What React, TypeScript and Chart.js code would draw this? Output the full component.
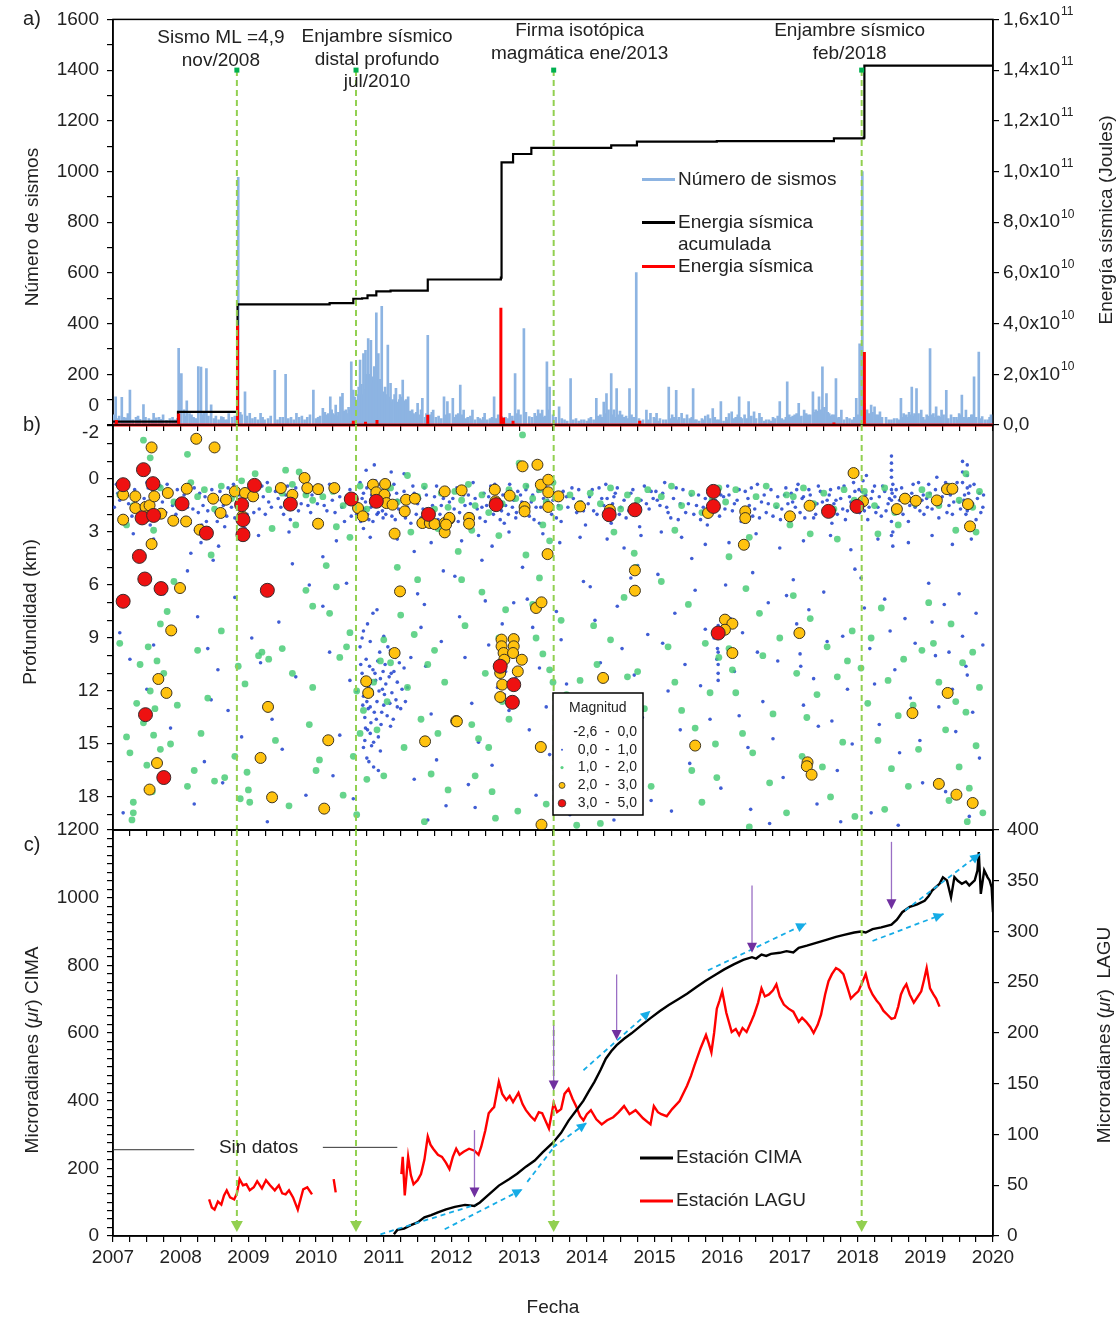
import React, { useEffect, useRef } from 'react';
import { Chart, registerables } from 'chart.js';

Chart.register(...registerables);

const FONT = '"Liberation Sans", Arial, Helvetica, sans-serif';
const INK = '#222222';

/* ================= DATA ================= */

// a) Número de sismos [año, sismos] – picos
const quakeCounts: number[][] = [
  [2007.04,111],[2007.09,35],[2007.13,109],[2007.19,28],[2007.25,138],[2007.34,30],[2007.4,22],[2007.45,81],[2007.53,25],[2007.6,46],[2007.68,30],[2007.74,40],[2007.79,18],[2007.84,25],[2007.92,20],[2007.97,302],[2008.01,203],[2008.05,60],[2008.09,95],[2008.16,40],[2008.21,25],[2008.26,230],[2008.3,228],[2008.34,50],[2008.38,223],[2008.45,80],[2008.52,35],[2008.6,33],[2008.66,20],[2008.71,45],[2008.76,30],[2008.85,977],[2008.9,40],[2008.95,131],[2009.02,46],[2009.1,30],[2009.18,46],[2009.24,20],[2009.29,25],[2009.39,216],[2009.47,30],[2009.55,200],[2009.63,30],[2009.71,46],[2009.79,35],[2009.87,30],[2009.96,138],[2010.03,30],[2010.1,66],[2010.15,40],[2010.21,111],[2010.25,45],[2010.29,79],[2010.33,50],[2010.36,111],[2010.39,125],[2010.44,60],[2010.48,70],[2010.52,249],[2010.55,138],[2010.58,90],[2010.6,98],[2010.63,150],[2010.65,256],[2010.68,120],[2010.7,282],[2010.73,295],[2010.75,180],[2010.77,341],[2010.79,200],[2010.81,334],[2010.84,164],[2010.86,230],[2010.89,442],[2010.92,282],[2010.94,180],[2010.97,468],[2010.99,131],[2011.02,150],[2011.04,120],[2011.06,315],[2011.08,110],[2011.1,164],[2011.13,100],[2011.16,120],[2011.18,145],[2011.21,90],[2011.23,100],[2011.26,110],[2011.28,177],[2011.31,95],[2011.33,100],[2011.36,111],[2011.42,60],[2011.46,40],[2011.5,85],[2011.57,105],[2011.61,30],[2011.65,354],[2011.69,40],[2011.73,59],[2011.81,35],[2011.89,111],[2011.94,92],[2012.02,105],[2012.07,40],[2012.13,157],[2012.18,59],[2012.24,30],[2012.31,59],[2012.39,30],[2012.44,20],[2012.49,46],[2012.57,25],[2012.63,111],[2012.69,40],[2012.74,33],[2012.8,30],[2012.86,46],[2012.94,203],[2012.99,60],[2013.07,380],[2013.15,33],[2013.23,46],[2013.28,60],[2013.34,59],[2013.38,35],[2013.41,249],[2013.45,150],[2013.5,40],[2013.59,72],[2013.67,20],[2013.76,183],[2013.84,25],[2013.92,20],[2014.0,15],[2014.06,30],[2014.14,105],[2014.2,40],[2014.25,90],[2014.29,124],[2014.36,203],[2014.4,60],[2014.44,144],[2014.49,55],[2014.52,40],[2014.58,35],[2014.63,144],[2014.69,30],[2014.73,601],[2014.77,25],[2014.83,20],[2014.88,59],[2014.94,46],[2014.99,30],[2015.03,46],[2015.08,25],[2015.13,20],[2015.21,150],[2015.26,40],[2015.32,137],[2015.36,30],[2015.4,46],[2015.48,40],[2015.52,25],[2015.57,144],[2015.62,20],[2015.7,25],[2015.75,35],[2015.79,40],[2015.86,65],[2015.92,20],[2015.98,92],[2016.06,30],[2016.1,45],[2016.14,52],[2016.2,30],[2016.25,111],[2016.29,25],[2016.33,40],[2016.39,92],[2016.47,52],[2016.55,46],[2016.58,30],[2016.65,20],[2016.72,15],[2016.78,25],[2016.85,92],[2016.91,20],[2016.96,170],[2017.02,30],[2017.07,40],[2017.13,85],[2017.17,35],[2017.21,59],[2017.27,40],[2017.34,131],[2017.38,60],[2017.43,111],[2017.48,229],[2017.51,70],[2017.54,124],[2017.58,45],[2017.62,40],[2017.68,183],[2017.72,30],[2017.76,59],[2017.84,30],[2017.92,20],[2017.98,105],[2018.03,320],[2018.07,1000],[2018.1,85],[2018.14,60],[2018.2,79],[2018.25,72],[2018.3,40],[2018.33,52],[2018.42,30],[2018.5,20],[2018.58,25],[2018.64,105],[2018.68,45],[2018.72,40],[2018.76,50],[2018.8,150],[2018.84,45],[2018.87,144],[2018.94,59],[2019.02,40],[2019.07,301],[2019.12,45],[2019.16,72],[2019.2,35],[2019.24,59],[2019.31,137],[2019.38,40],[2019.46,30],[2019.5,45],[2019.54,118],[2019.6,59],[2019.64,30],[2019.68,40],[2019.72,190],[2019.79,288],[2019.84,33],[2019.92,20],[2019.97,40]
];
// a) Número de sismos – actividad de fondo
const quakeCountsLow: number[][] = [
  [2007.02,40],[2007.07,25],[2007.16,30],[2007.22,45],[2007.29,20],[2007.37,35],[2007.48,30],[2007.57,20],[2007.64,28],[2007.71,22],[2007.88,30],[2007.95,25],[2008.07,35],[2008.13,45],[2008.19,30],[2008.24,25],[2008.32,40],[2008.41,35],[2008.49,25],[2008.56,20],[2008.63,30],[2008.69,20],[2008.8,35],[2008.88,50],[2008.98,35],[2009.06,25],[2009.14,20],[2009.21,30],[2009.33,35],[2009.43,20],[2009.51,30],[2009.59,25],[2009.67,20],[2009.75,30],[2009.83,20],[2009.91,40],[2010.0,25],[2010.06,35],[2010.13,50],[2010.18,45],[2010.23,60],[2010.27,40],[2010.31,35],[2010.41,55],[2010.46,45],[2010.5,60],[2010.57,110],[2010.62,120],[2010.67,160],[2010.72,140],[2010.74,200],[2010.78,160],[2010.83,190],[2010.88,150],[2010.91,210],[2010.96,170],[2011.0,120],[2011.12,90],[2011.2,80],[2011.24,120],[2011.3,70],[2011.35,85],[2011.39,55],[2011.44,45],[2011.48,50],[2011.53,40],[2011.55,60],[2011.63,45],[2011.67,35],[2011.71,50],[2011.77,30],[2011.85,25],[2011.92,40],[2011.97,45],[2012.05,30],[2012.1,45],[2012.16,40],[2012.21,25],[2012.28,35],[2012.35,20],[2012.42,25],[2012.47,30],[2012.53,20],[2012.6,30],[2012.66,25],[2012.77,20],[2012.83,25],[2012.9,35],[2012.97,45],[2013.02,40],[2013.1,50],[2013.19,30],[2013.26,35],[2013.31,45],[2013.36,30],[2013.43,60],[2013.54,30],[2013.63,25],[2013.71,15],[2013.8,20],[2013.88,15],[2013.96,20],[2014.03,25],[2014.1,20],[2014.17,35],[2014.22,30],[2014.27,45],[2014.32,60],[2014.38,40],[2014.42,30],[2014.47,40],[2014.55,30],[2014.61,25],[2014.66,40],[2014.71,30],[2014.8,15],[2014.91,20],[2015.01,25],[2015.06,15],[2015.17,20],[2015.24,25],[2015.29,30],[2015.34,20],[2015.44,25],[2015.55,30],[2015.6,20],[2015.66,15],[2015.73,20],[2015.82,25],[2015.89,30],[2015.95,20],[2016.02,15],[2016.08,20],[2016.17,25],[2016.23,40],[2016.27,30],[2016.36,25],[2016.43,35],[2016.5,25],[2016.62,15],[2016.69,20],[2016.75,30],[2016.82,35],[2016.88,25],[2016.94,30],[2016.99,40],[2017.04,35],[2017.1,45],[2017.15,30],[2017.24,45],[2017.3,40],[2017.36,50],[2017.41,55],[2017.46,60],[2017.5,45],[2017.56,50],[2017.6,35],[2017.65,40],[2017.7,25],[2017.8,20],[2017.88,25],[2017.95,30],[2018.0,40],[2018.05,60],[2018.12,50],[2018.17,45],[2018.22,50],[2018.27,40],[2018.36,30],[2018.46,20],[2018.54,25],[2018.61,20],[2018.66,30],[2018.7,35],[2018.74,30],[2018.78,40],[2018.82,35],[2018.85,40],[2018.9,45],[2018.97,30],[2019.0,20],[2019.04,35],[2019.1,40],[2019.14,30],[2019.18,35],[2019.22,30],[2019.27,40],[2019.34,25],[2019.42,30],[2019.48,20],[2019.52,40],[2019.57,30],[2019.62,25],[2019.66,30],[2019.7,40],[2019.75,30],[2019.81,25],[2019.88,20],[2019.95,30]
];

// a) Energía sísmica (x10^10 J) picos
const energySpikes: number[][] = [
  [2007.05,0.2],[2007.97,0.45],[2008.84,3.93],[2010.55,0.17],[2010.73,0.13],[2010.9,0.2],[2011.65,0.4],[2012.73,4.63],[2012.77,0.3],[2012.91,0.17],[2014.78,0.17],[2017.65,0.1],[2018.1,2.88]
];

// a) Energía sísmica acumulada (x10^10 J)
const energyCumulative: number[][] = [
  [2007.0,0.13],[2007.96,0.52],[2008.84,4.76],[2010.2,4.81],[2010.55,4.98],[2010.68,5.0],[2010.76,5.11],[2010.89,5.27],[2011.1,5.3],[2011.65,5.74],[2012.73,5.81],[2012.74,10.36],[2012.91,10.69],[2013.18,10.93],[2014.36,11.03],[2014.74,11.18],[2015.92,11.2],[2017.65,11.31],[2018.09,11.34],[2018.1,14.18],[2020.0,14.18]
];

// b) Profundidad (km) por magnitud [año, km] — magnitud < 1
const magLow: number[][] = [
  [2007.05,0.3],[2007.1,1.2],[2007.2,0.5],[2007.28,2.1],[2007.35,0.8],[2007.42,1.6],[2007.5,0.2],[2007.55,2.6],[2007.62,1.1],[2007.7,0.4],[2007.78,1.9],[2007.85,0.9],[2007.9,2.4],[2007.95,0.6],[2007.3,3.1],[2007.6,3.4],
  [2007.02,1.6],[2007.07,0.8],[2007.12,2.3],[2007.17,0.1],[2007.23,1.4],[2007.32,0.6],[2007.38,2.0],[2007.46,1.1],[2007.52,0.5],[2007.58,1.7],[2007.66,2.2],[2007.73,1.3],[2007.8,0.3],[2007.88,1.5],[2007.93,2.0],
  [2007.1,8.7],[2007.25,10.2],[2007.5,11.9],[2007.85,14.1],[2007.15,18.9],[2007.75,6.5],[2007.6,9.4],
  [2008.02,1.3],[2008.08,2.2],[2008.12,0.3],[2008.18,1.7],[2008.22,2.9],[2008.28,0.8],[2008.33,1.5],[2008.38,2.4],[2008.42,3.3],[2008.46,0.6],[2008.52,1.9],[2008.56,3.8],[2008.6,1.2],[2008.65,2.7],[2008.7,0.5],[2008.75,1.6],[2008.8,2.2],[2008.86,0.9],[2008.9,1.8],[2008.95,2.8],[2008.15,4.2],[2008.3,3.6],[2008.48,4.6],
  [2008.05,0.9],[2008.1,1.6],[2008.14,2.5],[2008.2,0.5],[2008.26,1.9],[2008.31,2.6],[2008.36,1.0],[2008.4,1.8],[2008.44,2.9],[2008.5,1.2],[2008.54,2.4],[2008.58,0.7],[2008.63,1.5],[2008.68,2.1],[2008.72,1.0],[2008.78,0.3],[2008.83,1.4],[2008.88,2.5],[2008.93,1.2],[2008.98,2.0],
  [2008.1,5.2],[2008.25,7.8],[2008.4,9.6],[2008.45,12.5],[2008.55,10.8],[2008.7,13.1],[2008.9,14.6],[2008.2,18.4],[2008.35,16.0],[2008.8,6.7],[2008.62,17.2],
  [2009.02,0.6],[2009.08,1.9],[2009.12,1.1],[2009.2,0.4],[2009.25,2.0],[2009.3,1.3],[2009.4,0.7],[2009.48,1.6],[2009.55,0.9],[2009.62,2.3],[2009.7,0.5],[2009.78,1.4],[2009.85,0.8],[2009.92,1.9],[2009.97,2.6],[2009.15,3.2],[2009.6,3.0],
  [2009.04,1.2],[2009.1,0.6],[2009.16,1.7],[2009.22,1.0],[2009.28,0.2],[2009.34,1.6],[2009.44,1.1],[2009.52,2.0],[2009.58,0.4],[2009.66,1.2],[2009.74,1.8],[2009.82,0.5],[2009.88,1.5],[2009.94,0.9],
  [2009.05,9.0],[2009.18,10.4],[2009.35,13.6],[2009.45,8.1],[2009.5,15.3],[2009.7,11.2],[2009.85,17.9],[2009.9,6.0],[2009.28,19.4],[2009.65,4.8],
  [2010.05,0.8],[2010.12,1.5],[2010.2,0.3],[2010.28,1.9],[2010.35,1.0],[2010.42,2.4],[2010.5,0.6],[2010.55,1.3],[2010.6,2.0],[2010.65,0.2],[2010.68,1.1],[2010.72,1.7],[2010.75,0.5],[2010.78,2.3],[2010.82,0.9],[2010.85,1.4],[2010.88,0.1],[2010.9,2.0],[2010.93,1.2],[2010.96,0.7],[2010.98,1.8],[2010.7,2.8],[2010.8,3.3],[2010.3,3.5],
  [2010.02,1.4],[2010.08,0.4],[2010.16,1.8],[2010.24,1.2],[2010.32,0.6],[2010.38,1.6],[2010.46,1.0],[2010.52,2.1],[2010.58,0.9],[2010.62,1.5],[2010.66,2.4],[2010.7,0.8],[2010.73,1.3],[2010.76,2.0],[2010.79,0.4],[2010.81,1.6],[2010.84,2.4],[2010.87,0.7],[2010.89,1.1],[2010.92,1.9],[2010.95,0.3],[2010.97,1.4],[2010.99,2.2],[2010.74,-0.5],[2010.86,-0.8],
  [2010.65,9.5],[2010.68,11.0],[2010.7,12.3],[2010.72,13.5],[2010.74,10.2],[2010.76,14.2],[2010.78,11.7],[2010.8,12.9],[2010.82,15.1],[2010.84,10.8],[2010.86,13.2],[2010.88,11.4],[2010.9,12.6],[2010.92,14.6],[2010.94,9.8],[2010.96,13.9],[2010.98,11.9],[2011.0,12.8],[2011.02,10.5],[2011.05,13.4],[2011.08,11.2],[2011.1,14.0],[2011.12,12.1],[2011.15,10.9],[2011.18,12.5],[2011.2,11.5],[2011.25,13.0],[2011.3,10.7],[2010.75,15.8],[2010.85,16.3],[2010.7,8.6],[2010.9,7.4],[2011.0,8.9],[2011.1,9.7],[2010.8,9.2],[2011.35,11.8],[2011.4,10.1],[2010.6,12.0],[2010.72,14.8],[2010.95,15.4],
  [2010.66,10.5],[2010.69,12.8],[2010.71,11.5],[2010.73,14.1],[2010.75,12.6],[2010.77,13.0],[2010.79,10.6],[2010.81,13.8],[2010.83,12.2],[2010.85,14.9],[2010.87,11.0],[2010.89,13.6],[2010.91,10.3],[2010.93,12.0],[2010.95,11.3],[2010.97,13.2],[2010.99,10.9],[2011.01,12.2],[2011.03,11.6],[2011.06,9.5],[2011.09,12.7],[2011.11,11.0],[2011.14,13.6],[2011.17,10.1],[2011.2,12.9],[2011.23,10.4],[2011.27,11.9],[2011.32,12.6],[2010.7,15.2],[2010.78,16.0],[2010.8,14.4],[2010.92,16.5],[2010.68,9.0],[2010.76,8.2],[2010.84,7.6],
  [2010.1,7.2],[2010.2,9.8],[2010.35,14.5],[2010.45,5.9],[2010.55,18.1],[2010.25,16.8],[2010.5,11.4],[2010.1,4.4],
  [2011.02,0.4],[2011.05,1.5],[2011.08,0.9],[2011.12,2.1],[2011.15,0.3],[2011.2,1.2],[2011.25,1.9],[2011.3,0.7],[2011.35,1.6],[2011.4,2.5],[2011.45,0.8],[2011.5,1.4],[2011.55,2.2],[2011.6,0.5],[2011.65,1.8],[2011.7,2.6],[2011.75,1.0],[2011.8,2.3],[2011.85,1.5],[2011.9,0.6],[2011.95,2.0],[2011.2,3.4],[2011.45,4.1],[2011.7,3.6],[2011.3,-0.3],
  [2011.01,1.1],[2011.03,2.0],[2011.06,0.6],[2011.09,1.6],[2011.11,-0.4],[2011.14,1.3],[2011.17,2.3],[2011.19,0.8],[2011.22,1.7],[2011.27,1.1],[2011.32,2.2],[2011.38,1.2],[2011.43,0.4],[2011.48,2.0],[2011.53,1.1],[2011.58,1.7],[2011.63,0.9],[2011.68,2.4],[2011.72,1.5],[2011.78,0.4],[2011.83,2.0],[2011.88,1.1],[2011.93,2.6],[2011.97,1.3],
  [2011.5,6.5],[2011.55,8.4],[2011.62,10.6],[2011.7,13.3],[2011.78,15.9],[2011.85,9.2],[2011.92,18.5],[2011.45,17.0],[2011.65,19.3],[2011.88,5.2],[2011.6,7.1],
  [2012.02,1.1],[2012.08,0.5],[2012.12,1.9],[2012.18,0.9],[2012.22,2.4],[2012.28,1.4],[2012.32,0.2],[2012.38,1.7],[2012.42,2.2],[2012.48,0.8],[2012.52,1.5],[2012.58,0.4],[2012.62,2.0],[2012.66,1.2],[2012.7,0.6],[2012.74,1.8],[2012.78,2.5],[2012.82,1.0],[2012.86,0.3],[2012.9,1.6],[2012.95,2.2],[2012.98,0.7],[2012.4,3.2],[2012.6,3.8],[2012.85,3.0],[2012.15,3.5],
  [2012.04,1.7],[2012.1,2.4],[2012.14,0.6],[2012.2,1.5],[2012.25,0.9],[2012.3,2.0],[2012.35,1.1],[2012.45,1.6],[2012.5,2.4],[2012.55,1.0],[2012.6,1.3],[2012.64,0.3],[2012.68,1.6],[2012.72,2.3],[2012.76,0.9],[2012.8,1.5],[2012.84,2.0],[2012.88,0.8],[2012.92,1.2],[2012.96,1.9],
  [2012.05,5.5],[2012.12,7.8],[2012.2,10.1],[2012.3,12.7],[2012.4,14.9],[2012.5,6.9],[2012.55,9.4],[2012.6,16.2],[2012.68,11.8],[2012.75,8.2],[2012.8,10.9],[2012.85,13.1],[2012.9,9.9],[2012.95,11.3],[2012.78,12.2],[2012.72,10.3],[2012.92,7.0],[2012.35,18.6],[2012.45,4.6],[2012.25,17.3],
  [2013.02,0.9],[2013.08,1.8],[2013.12,0.4],[2013.18,1.3],[2013.22,2.3],[2013.28,0.7],[2013.32,1.6],[2013.38,0.1],[2013.42,1.2],[2013.48,2.0],[2013.52,0.8],[2013.58,1.5],[2013.62,2.4],[2013.7,1.0],[2013.78,0.5],[2013.85,1.9],[2013.92,1.3],[2013.98,2.6],[2013.35,3.1],[2013.6,3.6],[2013.9,3.3],
  [2013.04,1.3],[2013.1,0.6],[2013.15,2.1],[2013.2,0.9],[2013.25,1.6],[2013.3,2.5],[2013.36,1.1],[2013.4,0.5],[2013.45,1.7],[2013.5,1.2],[2013.55,2.2],[2013.65,0.7],[2013.72,1.6],[2013.8,1.1],[2013.88,0.6],[2013.95,1.8],
  [2013.05,5.0],[2013.12,6.8],[2013.2,8.4],[2013.3,10.7],[2013.4,12.9],[2013.45,15.6],[2013.55,7.5],[2013.62,9.1],[2013.7,11.6],[2013.8,13.8],[2013.88,16.4],[2013.95,5.8],[2013.25,17.9],[2013.75,19.0],[2013.15,14.2],
  [2014.02,1.4],[2014.08,0.6],[2014.15,2.0],[2014.22,1.1],[2014.28,0.3],[2014.32,1.8],[2014.36,2.5],[2014.4,1.0],[2014.45,0.5],[2014.5,1.6],[2014.58,2.2],[2014.65,0.8],[2014.72,1.4],[2014.78,2.7],[2014.85,0.4],[2014.92,1.7],[2014.98,1.1],[2014.3,3.4],[2014.55,3.9],[2014.8,3.2],
  [2014.04,1.0],[2014.1,1.8],[2014.18,0.5],[2014.25,1.5],[2014.3,1.1],[2014.34,2.2],[2014.38,1.4],[2014.42,0.8],[2014.48,2.0],[2014.55,1.2],[2014.62,1.8],[2014.68,0.6],[2014.75,1.9],[2014.8,1.2],[2014.88,1.4],[2014.95,0.7],
  [2014.05,6.1],[2014.12,8.0],[2014.2,10.4],[2014.3,12.3],[2014.38,14.5],[2014.45,7.2],[2014.52,9.6],[2014.6,16.8],[2014.7,11.1],[2014.75,4.9],[2014.82,13.5],[2014.9,8.8],[2014.95,18.2],[2014.4,19.3],[2014.65,5.6],
  [2015.02,0.7],[2015.08,1.5],[2015.15,0.2],[2015.2,1.9],[2015.28,1.1],[2015.35,2.3],[2015.42,0.6],[2015.5,1.4],[2015.58,2.0],[2015.65,0.9],[2015.72,1.6],[2015.78,2.6],[2015.85,0.4],[2015.9,1.2],[2015.96,2.1],[2015.4,3.3],[2015.75,3.7],[2015.1,3.0],
  [2015.04,1.2],[2015.12,0.8],[2015.18,1.6],[2015.24,2.2],[2015.32,0.5],[2015.38,1.4],[2015.46,1.9],[2015.54,0.9],[2015.62,1.5],[2015.68,2.3],[2015.75,1.1],[2015.82,1.7],[2015.88,0.7],[2015.93,1.6],[2015.98,0.9],
  [2015.05,5.4],[2015.12,9.3],[2015.2,12.0],[2015.3,7.6],[2015.38,14.2],[2015.45,10.5],[2015.52,16.1],[2015.6,6.3],[2015.68,11.7],[2015.75,8.5],[2015.82,13.6],[2015.88,9.0],[2015.92,10.2],[2015.94,11.0],[2015.93,9.6],[2015.98,17.5],[2015.25,18.8],[2015.55,4.5],
  [2015.94,8.3],[2015.94,9.0],[2015.94,9.8],[2015.94,10.5],[2015.94,11.4],
  [2016.02,1.0],[2016.08,0.4],[2016.15,1.8],[2016.22,1.2],[2016.28,2.4],[2016.34,0.7],[2016.4,1.5],[2016.45,2.1],[2016.52,0.3],[2016.58,1.3],[2016.65,1.9],[2016.72,0.6],[2016.8,1.6],[2016.86,2.3],[2016.92,0.9],[2016.97,1.4],[2016.1,3.6],[2016.5,3.1],[2016.85,3.9],
  [2016.04,1.7],[2016.1,0.9],[2016.18,1.4],[2016.25,0.6],[2016.32,1.9],[2016.38,1.1],[2016.43,0.5],[2016.48,1.7],[2016.55,2.2],[2016.62,0.9],[2016.68,1.4],[2016.75,2.1],[2016.82,1.0],[2016.88,1.7],[2016.94,0.5],
  [2016.05,6.0],[2016.12,7.9],[2016.18,10.9],[2016.25,13.4],[2016.3,8.7],[2016.38,15.2],[2016.45,5.3],[2016.52,9.8],[2016.6,12.6],[2016.68,7.0],[2016.75,14.7],[2016.82,10.3],[2016.9,16.9],[2016.95,6.6],[2016.42,18.7],[2016.7,19.5],
  [2017.02,0.8],[2017.08,1.6],[2017.12,0.3],[2017.18,1.1],[2017.22,2.2],[2017.28,0.6],[2017.32,1.5],[2017.38,2.0],[2017.42,0.4],[2017.48,1.3],[2017.52,1.9],[2017.58,0.9],[2017.62,2.5],[2017.68,1.2],[2017.72,0.5],[2017.78,1.7],[2017.82,2.3],[2017.88,1.0],[2017.94,0.2],[2017.98,1.5],[2017.2,3.5],[2017.6,3.2],[2017.9,4.0],
  [2017.04,1.3],[2017.1,0.6],[2017.15,1.9],[2017.2,1.0],[2017.25,1.6],[2017.3,0.9],[2017.35,2.2],[2017.4,1.4],[2017.45,0.7],[2017.5,1.8],[2017.55,1.2],[2017.6,0.6],[2017.65,1.4],[2017.7,2.0],[2017.75,1.1],[2017.8,0.4],[2017.85,1.8],[2017.9,1.3],[2017.96,0.7],
  [2017.05,5.7],[2017.1,8.2],[2017.15,9.9],[2017.16,10.6],[2017.2,12.8],[2017.28,7.4],[2017.35,11.3],[2017.42,14.0],[2017.5,6.4],[2017.55,9.2],[2017.62,13.7],[2017.7,16.5],[2017.78,8.9],[2017.85,11.9],[2017.92,15.0],[2017.96,5.1],[2017.4,18.4],[2017.75,19.4],
  [2018.02,0.6],[2018.05,1.3],[2018.08,0.1],[2018.1,1.8],[2018.12,0.9],[2018.15,2.3],[2018.2,1.1],[2018.25,0.4],[2018.3,1.6],[2018.35,2.1],[2018.4,0.7],[2018.45,1.4],[2018.5,-0.5],[2018.52,0.3],[2018.55,1.0],[2018.6,1.9],[2018.65,0.5],[2018.7,1.3],[2018.75,2.4],[2018.8,0.8],[2018.85,1.6],[2018.9,0.2],[2018.95,1.2],[2018.98,2.0],[2018.52,3.0],[2018.52,3.8],[2018.3,3.4],[2018.75,3.6],
  [2018.03,1.9],[2018.06,0.7],[2018.09,1.4],[2018.13,-0.2],[2018.17,1.6],[2018.22,0.7],[2018.27,1.9],[2018.32,1.0],[2018.37,0.4],[2018.42,1.8],[2018.47,1.1],[2018.51,0.8],[2018.53,1.6],[2018.57,0.6],[2018.62,1.2],[2018.67,2.0],[2018.72,0.9],[2018.77,1.5],[2018.82,0.3],[2018.87,1.1],[2018.92,1.8],[2018.97,0.9],
  [2018.5,-1.3],[2018.5,-0.9],[2018.5,-0.1],[2018.5,0.6],[2018.5,1.2],[2018.5,2.4],[2018.5,3.2],
  [2018.05,5.6],[2018.1,7.3],[2018.18,9.6],[2018.25,11.6],[2018.32,13.9],[2018.4,6.8],[2018.48,8.6],[2018.55,10.8],[2018.62,15.5],[2018.7,7.9],[2018.78,12.4],[2018.85,9.3],[2018.92,14.8],[2018.96,17.2],[2018.2,18.9],[2018.6,19.6],
  [2019.02,1.1],[2019.05,0.3],[2019.1,1.7],[2019.15,0.6],[2019.2,2.2],[2019.25,1.0],[2019.3,0.2],[2019.35,1.5],[2019.4,2.0],[2019.45,0.7],[2019.5,1.3],[2019.55,-0.4],[2019.58,0.9],[2019.62,1.8],[2019.66,0.4],[2019.7,1.4],[2019.75,2.3],[2019.8,0.8],[2019.85,1.6],[2019.1,3.2],[2019.4,3.7],[2019.68,3.4],
  [2019.03,1.6],[2019.07,0.8],[2019.12,1.2],[2019.17,-0.1],[2019.22,1.4],[2019.27,0.6],[2019.32,1.9],[2019.37,0.9],[2019.42,1.3],[2019.47,0.2],[2019.52,1.7],[2019.57,1.2],[2019.6,2.0],[2019.64,0.8],[2019.68,1.6],[2019.72,0.3],[2019.77,1.1],[2019.82,1.9],[2019.86,0.9],
  [2019.62,-0.8],[2019.62,-0.2],[2019.62,0.5],[2019.55,-1.0],[2019.55,0.2],
  [2019.05,5.9],[2019.1,8.1],[2019.15,10.0],[2019.2,12.9],[2019.28,7.1],[2019.35,9.8],[2019.4,11.9],[2019.45,14.3],[2019.5,6.5],[2019.55,8.9],[2019.6,10.6],[2019.62,11.1],[2019.7,13.2],[2019.75,7.6],[2019.8,15.8],[2019.85,9.4],[2019.3,17.7],[2019.65,19.1]
];

// magnitud 1–2
const magMid: number[][] = [
  [2007.1,0.9],[2007.3,1.5],[2007.45,-2.2],[2007.55,-1.2],[2007.7,0.5],[2007.9,1.3],[2007.2,2.6],[2007.6,2.9],
  [2007.1,9.3],[2007.2,14.6],[2007.25,15.5],[2007.3,18.3],[2007.3,18.9],[2007.28,19.3],[2007.35,12.7],[2007.4,10.5],[2007.45,13.8],[2007.5,16.2],[2007.52,9.5],[2007.55,12.0],[2007.6,14.5],[2007.65,10.3],[2007.7,8.2],[2007.75,11.0],[2007.8,7.5],[2007.85,15.0],[2007.9,5.8],[2007.95,12.8],[2007.62,13.0],[2007.58,17.7],[2007.7,15.3],
  [2008.1,-1.4],[2008.15,0.2],[2008.25,1.0],[2008.35,0.6],[2008.5,1.7],[2008.6,0.4],[2008.75,1.1],[2008.9,0.1],[2008.95,1.5],[2008.45,4.3],
  [2008.1,17.4],[2008.2,16.5],[2008.25,9.7],[2008.3,14.4],[2008.4,12.4],[2008.5,17.1],[2008.6,8.6],[2008.65,16.9],[2008.8,15.7],[2008.85,10.6],[2008.95,11.6],[2008.98,16.6],[2009.0,17.6],[2009.02,18.3],[2008.88,18.1],
  [2009.1,-0.3],[2009.3,0.6],[2009.5,0.8],[2009.55,-0.5],[2009.65,0.3],[2009.75,-0.4],[2009.85,0.9],[2009.95,1.2],[2009.35,2.8],[2009.7,2.6],
  [2009.15,10.0],[2009.2,9.8],[2009.3,10.2],[2009.4,14.8],[2009.5,9.6],[2009.6,18.5],[2009.65,11.0],[2009.85,6.3],[2009.9,13.9],[2009.95,7.2],[2010.0,16.5],[2010.05,15.9],[2009.95,11.8],
  [2010.1,1.0],[2010.25,0.7],[2010.4,1.5],[2010.55,1.1],[2010.65,0.4],[2010.75,1.7],[2010.85,0.6],[2010.95,1.3],[2010.3,2.7],[2010.5,3.3],
  [2010.2,7.6],[2010.3,6.1],[2010.35,10.1],[2010.45,9.5],[2010.5,8.7],[2010.55,15.7],[2010.6,12.0],[2010.65,14.4],[2010.7,13.1],[2010.8,12.0],[2010.85,11.5],[2010.9,14.2],[2010.95,10.3],[2011.0,9.1],[2011.05,12.6],[2011.1,10.4],[2011.15,9.9],[2010.4,17.9],[2010.6,19.0],[2010.75,17.0],[2011.0,16.8],[2010.15,4.9],
  [2011.1,0.5],[2011.2,1.3],[2011.35,-0.2],[2011.5,1.0],[2011.6,0.4],[2011.75,1.7],[2011.85,0.8],[2011.95,1.6],[2011.4,3.0],[2011.8,2.8],
  [2011.2,5.0],[2011.25,7.7],[2011.35,11.8],[2011.45,8.8],[2011.5,5.7],[2011.55,13.6],[2011.65,10.5],[2011.7,16.7],[2011.75,9.7],[2011.8,14.4],[2011.9,11.5],[2011.95,17.6],[2011.6,19.4],[2011.3,15.2],
  [2012.05,0.7],[2012.15,1.2],[2012.25,0.3],[2012.35,1.5],[2012.45,0.9],[2012.55,1.9],[2012.65,0.5],[2012.75,1.4],[2012.85,0.6],[2012.95,1.1],[2012.3,2.9],[2012.7,3.2],[2013.0,-0.9],[2013.05,-2.5],
  [2012.1,4.1],[2012.15,5.7],[2012.2,8.3],[2012.3,13.9],[2012.35,16.8],[2012.45,6.4],[2012.5,11.0],[2012.55,15.2],[2012.6,17.7],[2012.7,9.0],[2012.75,12.6],[2012.8,7.4],[2012.85,13.6],[2012.92,9.4],[2012.98,18.8],[2012.65,19.2],[2012.4,14.7],
  [2013.1,0.4],[2013.2,1.1],[2013.3,0.6],[2013.4,1.3],[2013.5,0.2],[2013.6,1.6],[2013.75,0.9],[2013.9,1.4],[2013.35,2.6],[2013.45,3.5],
  [2013.1,4.3],[2013.2,7.1],[2013.25,9.0],[2013.3,5.6],[2013.35,9.9],[2013.45,10.8],[2013.5,11.5],[2013.55,13.6],[2013.62,8.0],[2013.7,12.2],[2013.8,16.3],[2013.9,11.4],[2013.95,14.5],[2013.4,18.4],[2013.65,17.8],[2013.85,19.6],
  [2014.05,0.8],[2014.2,1.4],[2014.35,0.5],[2014.5,1.7],[2014.6,0.9],[2014.75,1.2],[2014.9,0.6],[2014.4,3.0],[2014.7,4.2],[2014.72,5.0],
  [2014.1,8.3],[2014.15,10.5],[2014.25,12.6],[2014.35,9.1],[2014.45,14.1],[2014.55,6.7],[2014.6,11.2],[2014.68,15.6],[2014.75,10.9],[2014.85,13.0],[2014.95,17.4],[2014.5,18.8],[2014.2,19.5],
  [2015.1,1.0],[2015.25,0.4],[2015.4,1.5],[2015.55,0.8],[2015.7,1.9],[2015.85,1.2],[2015.95,0.5],[2015.3,2.9],
  [2015.1,5.8],[2015.2,9.5],[2015.3,11.5],[2015.4,13.1],[2015.5,7.1],[2015.55,16.5],[2015.6,14.1],[2015.7,18.3],[2015.75,9.3],[2015.82,12.1],[2015.9,15.0],[2015.95,10.1],[2015.92,16.9],
  [2016.05,1.3],[2016.2,0.6],[2016.35,1.8],[2016.5,1.0],[2016.65,0.4],[2016.8,1.5],[2016.95,0.9],[2016.4,3.3],[2016.1,4.4],
  [2016.05,8.1],[2016.1,9.6],[2016.15,10.8],[2016.2,12.1],[2016.3,14.4],[2016.35,6.2],[2016.45,15.5],[2016.55,7.6],[2016.6,10.0],[2016.7,17.2],[2016.75,13.3],[2016.85,9.0],[2016.95,18.9],[2016.4,19.7],
  [2017.05,1.0],[2017.2,0.5],[2017.35,1.4],[2017.5,0.8],[2017.65,1.7],[2017.8,0.6],[2017.95,1.2],[2017.3,3.1],[2017.7,3.4],[2017.0,2.6],
  [2017.05,6.6],[2017.1,11.0],[2017.18,15.7],[2017.25,13.5],[2017.3,7.9],[2017.4,12.2],[2017.48,16.3],[2017.55,9.5],[2017.6,18.0],[2017.7,11.2],[2017.78,14.9],[2017.85,10.3],[2017.92,8.6],[2017.96,19.1],
  [2018.05,1.2],[2018.1,0.7],[2018.25,1.5],[2018.4,0.5],[2018.55,1.9],[2018.7,1.0],[2018.85,1.4],[2018.95,0.6],[2018.3,3.1],[2018.6,2.6],
  [2018.05,10.7],[2018.15,12.7],[2018.2,9.0],[2018.3,14.8],[2018.35,7.3],[2018.45,11.4],[2018.5,16.4],[2018.6,13.4],[2018.68,10.2],[2018.75,17.4],[2018.82,12.8],[2018.9,15.3],[2018.95,9.7],[2018.4,18.7],
  [2019.05,0.9],[2019.2,1.5],[2019.35,0.4],[2019.5,1.2],[2019.6,-0.3],[2019.7,1.6],[2019.8,0.7],[2019.45,2.9],[2019.75,3.0],
  [2019.05,7.0],[2019.12,9.3],[2019.2,11.5],[2019.3,14.2],[2019.38,8.2],[2019.45,12.6],[2019.5,16.3],[2019.55,10.4],[2019.6,13.2],[2019.65,17.5],[2019.7,9.8],[2019.75,15.1],[2019.8,11.8],[2019.85,18.9],[2019.35,18.2],[2019.62,19.4]
];

// magnitud 2–3
const magHigh: number[][] = [
  [2007.57,-1.79],[2008.23,-2.28],[2008.5,-1.79],[2007.15,0.89],[2007.15,2.3],[2007.33,0.98],[2007.33,1.64],[2007.48,1.58],[2007.54,1.49],[2007.61,0.98],[2007.71,1.96],[2007.81,0.79],[2007.89,2.36],[2007.49,2.11],[2008.09,0.55],[2008.08,2.4],[2008.48,1.11],[2008.59,1.92],[2008.67,1.17],[2008.28,2.87],[2008.8,0.7],[2008.95,0.79],[2008.91,2.11],[2009.07,0.98],[2007.57,3.68],[2007.99,6.17],[2007.86,8.57],[2007.67,11.32],[2007.79,12.11],[2007.65,16.08],[2007.54,17.58],
  [2009.48,0.51],[2009.65,0.89],[2009.83,-0.06],[2009.87,0.51],[2010.03,2.53],[2010.03,0.57],[2010.27,0.51],[2010.62,1.64],[2010.69,2.11],[2010.84,0.32],[2010.89,0.75],[2011.02,0.28],[2011.01,0.89],[2011.04,1.36],[2011.13,1.45],[2011.16,3.09],[2011.33,1.17],[2011.31,1.83],[2011.46,1.11],[2011.24,6.36],[2010.74,11.45],[2010.77,12.11],[2011.16,9.85],[2011.57,2.49],[2011.68,2.49],[2011.75,2.55],[2011.9,2.49],[2011.97,2.26],[2011.9,3.02],[2011.9,0.7],[2012.07,13.7],[2011.61,14.85],[2009.29,12.9],[2009.18,15.79],[2009.35,18.02],[2010.18,14.79],[2010.12,18.66],
  [2012.15,0.64],[2011.97,2.2],[2011.92,2.58],[2012.26,2.2],[2012.26,2.53],[2012.64,0.6],[2012.65,1.26],[2012.86,0.94],[2013.05,-0.72],[2013.27,-0.81],[2013.32,0.32],[2013.43,0.04],[2013.43,0.75],[2013.43,1.58],[2013.58,0.98],[2013.08,1.58],[2013.08,1.83],[2013.9,1.55],[2013.42,4.25],[2013.25,7.3],[2013.33,6.98],[2012.74,9.09],[2012.92,9.06],[2012.74,9.47],[2012.92,9.47],[2012.77,9.85],[2012.91,9.85],[2012.78,10.23],[2013.04,10.23],[2012.72,10.98],[2012.98,10.89],[2012.75,11.64],[2012.72,12.34],[2012.08,13.72],[2013.32,15.17],[2013.33,19.57],[2014.24,11.26],[2014.71,5.17],[2014.71,6.32],[2014.34,1.74],[2015.79,1.92],[2016.34,1.83],[2016.34,2.21],[2016.32,3.72],[2016.04,7.96],[2016.15,8.19],[2016.04,8.53],[2016.15,9.85],[2015.6,15.09],
  [2017.94,-0.34],[2017.0,2.11],[2017.29,1.51],[2018.08,1.26],[2018.58,1.7],[2018.7,1.11],[2018.86,1.23],[2019.17,1.21],[2019.32,0.57],[2019.4,0.55],[2019.63,1.42],[2019.66,2.68],[2017.14,8.72],[2017.26,16.04],[2017.25,16.26],[2017.32,16.74],[2018.81,13.25],[2019.33,12.11],[2019.2,17.26],[2019.46,17.87],[2019.7,18.34]
];

// magnitud 3–5
const magTop: number[][] = [
  [2007.15,0.32],[2007.45,-0.53],[2007.59,0.26],[2007.39,4.38],[2007.47,5.66],[2007.15,6.92],[2007.71,6.2],[2007.43,2.2],[2007.6,2.06],[2007.48,13.34],[2007.75,16.9],[2008.02,1.4],[2008.38,3.06],[2008.92,3.15],[2008.92,2.3],[2008.9,1.45],[2009.09,0.36],[2009.28,6.3],[2009.62,1.42],[2010.52,1.13],[2010.89,1.26],[2011.66,2.0],
  [2012.66,1.45],[2012.92,11.64],[2012.9,12.64],[2012.72,10.6],[2014.33,2.02],[2014.71,1.74],[2015.87,0.7],[2015.87,1.55],[2015.94,8.72],[2017.57,1.83],[2017.99,1.55]
];

// c) Inclinación (μr)
const tiltCIMA: number[][] = [
  [2011.15,5],[2011.2,18],[2011.3,22],[2011.4,32],[2011.5,40],[2011.6,55],[2011.7,62],[2011.8,70],[2011.92,79],[2012.05,86],[2012.2,92],[2012.34,89],[2012.42,99],[2012.55,122],[2012.7,149],[2012.85,168],[2012.97,184],[2013.1,205],[2013.23,223],[2013.35,248],[2013.51,278],[2013.62,305],[2013.73,341],[2013.84,370],[2013.95,400],[2014.03,428],[2014.11,455],[2014.2,490],[2014.28,524],[2014.36,546],[2014.44,564],[2014.55,583],[2014.66,599],[2014.8,622],[2014.94,644],[2015.08,665],[2015.21,683],[2015.35,700],[2015.48,716],[2015.62,736],[2015.76,755],[2015.9,772],[2016.03,788],[2016.17,803],[2016.31,816],[2016.44,824],[2016.5,820],[2016.58,832],[2016.65,828],[2016.72,834],[2016.85,837],[2016.95,842],[2017.05,838],[2017.13,852],[2017.25,858],[2017.4,867],[2017.55,876],[2017.68,884],[2017.8,890],[2017.95,897],[2018.05,900],[2018.12,897],[2018.22,907],[2018.35,912],[2018.5,920],[2018.58,935],[2018.66,957],[2018.77,973],[2018.88,980],[2018.99,991],[2019.05,1005],[2019.1,1021],[2019.15,1030],[2019.21,1041],[2019.26,1060],[2019.32,1051],[2019.38,1001],[2019.43,1061],[2019.48,1050],[2019.54,1041],[2019.6,1048],[2019.65,1036],[2019.73,1051],[2019.77,1080],[2019.79,1135],[2019.82,1011],[2019.87,1081],[2019.92,1060],[2019.95,1051],[2019.98,1030],[2020.0,957]
];

const tiltLAGU: (number | null)[][] = [
  [2008.42,36],[2008.46,28],[2008.5,26],[2008.55,34],[2008.6,31],[2008.64,40],[2008.68,45],[2008.73,38],[2008.79,36],[2008.83,42],[2008.87,56],[2008.92,50],[2008.97,51],[2009.02,45],[2009.08,48],[2009.13,54],[2009.2,47],[2009.26,55],[2009.32,50],[2009.39,45],[2009.45,50],[2009.5,42],[2009.55,41],[2009.6,45],[2009.66,38],[2009.73,26],[2009.77,36],[2009.81,46],[2009.87,48],[2009.94,41],
  [2009.95,null],
  [2010.26,56],[2010.29,43],
  [2010.3,null],
  [2011.26,61],[2011.28,78],[2011.31,40],[2011.36,78],[2011.4,60],[2011.44,51],[2011.5,55],[2011.55,61],[2011.6,75],[2011.65,98],[2011.69,90],[2011.73,86],[2011.8,80],[2011.86,78],[2011.92,72],[2011.97,66],[2012.02,78],[2012.07,86],[2012.12,80],[2012.18,83],[2012.26,86],[2012.34,84],[2012.4,80],[2012.44,88],[2012.5,104],[2012.55,121],[2012.6,125],[2012.63,127],[2012.7,152],[2012.75,140],[2012.81,134],[2012.86,138],[2012.91,132],[2012.99,141],[2013.05,130],[2013.1,124],[2013.17,118],[2013.23,114],[2013.29,122],[2013.34,121],[2013.44,106],[2013.51,131],[2013.56,122],[2013.62,125],[2013.67,140],[2013.73,145],[2013.79,135],[2013.84,128],[2013.9,118],[2013.95,114],[2014.0,120],[2014.06,124],[2014.14,115],[2014.22,110],[2014.3,114],[2014.39,117],[2014.47,122],[2014.55,128],[2014.63,120],[2014.72,124],[2014.83,116],[2014.94,110],[2014.99,128],[2015.05,122],[2015.1,120],[2015.18,118],[2015.26,125],[2015.37,133],[2015.48,148],[2015.54,158],[2015.59,168],[2015.68,185],[2015.76,198],[2015.8,190],[2015.84,181],[2015.88,200],[2015.92,224],[2015.96,232],[2016.0,241],[2016.06,220],[2016.14,201],[2016.2,204],[2016.25,198],[2016.3,205],[2016.36,201],[2016.42,210],[2016.47,218],[2016.53,230],[2016.58,244],[2016.63,236],[2016.69,238],[2016.75,242],[2016.8,248],[2016.85,236],[2016.91,228],[2016.98,224],[2017.05,221],[2017.13,211],[2017.18,215],[2017.24,211],[2017.3,206],[2017.35,200],[2017.41,208],[2017.46,218],[2017.52,238],[2017.57,251],[2017.62,258],[2017.68,264],[2017.73,262],[2017.79,258],[2017.85,245],[2017.9,234],[2017.96,238],[2018.01,241],[2018.07,250],[2018.12,258],[2018.17,245],[2018.22,238],[2018.28,232],[2018.33,228],[2018.38,222],[2018.44,218],[2018.5,214],[2018.55,215],[2018.6,226],[2018.64,238],[2018.68,244],[2018.72,248],[2018.77,238],[2018.83,230],[2018.89,236],[2018.94,241],[2018.98,252],[2019.02,264],[2019.07,244],[2019.12,238],[2019.16,234],[2019.21,226]
];

// Eventos (líneas verdes)
const eventDates = [2008.83, 2010.59, 2013.51, 2018.06];
const eventNotes = [
  ['Sismo ML =4,9', 'nov/2008'],
  ['Enjambre sísmico', 'distal profundo', 'jul/2010'],
  ['Firma isotópica', 'magmática ene/2013'],
  ['Enjambre sísmico', 'feb/2018'],
];
const eventNoteOffset = [[-16, 38], [21, 37], [26, 31], [-12, 31]]; // px: dx from line, y of first line

// c) Flechas de tendencia [x1, y1, x2, y2, punta]
const trendArrows = [
  [2010.95, 5, 2012.35, 92, 0],
  [2011.9, 20, 2013.05, 138, 1],
  [2013.12, 160, 2013.55, 272, 0],
  [2013.5, 262, 2014.0, 335, 1],
  [2013.95, 490, 2014.94, 666, 1],
  [2015.79, 785, 2017.24, 924, 1],
  [2018.22, 872, 2019.27, 952, 1],
  [2018.7, 962, 2019.81, 1130, 1],
];
// c) Flechas moradas [x, yInicio, yFin]
const changeArrows = [
  [2012.34, 313, 114],
  [2013.51, 622, 430],
  [2014.44, 773, 579],
  [2016.44, 1036, 837],
  [2018.5, 1165, 966],
];
// c) "Sin datos"
const noDataSegments = [[2007.0, 2008.2, 255], [2010.1, 2011.2, 262]];
const noDataLabel = { text: 'Sin datos', x: 2009.15, y: 262 };

/* ================= LAYOUT ================= */
const CW = 1120, CH = 1318;
const LEFT_W = 113, RIGHT_W = 127;
const A_TOP = 18, A_BOT = 425, B_BOT = 830, C_BOT = 1236;
const X_MIN = 2007, X_MAX = 2020;

const range = (a: number, b: number, s: number) => { const r: number[] = []; for (let v = a; v <= b + 1e-9; v += s) r.push(Math.round(v * 1000) / 1000); return r; };
const xy = (arr: any[][]) => arr.map(([x, y]) => ({ x, y }));

function xAxis(showLabels: boolean, height: number) {
  return {
    type: 'linear', position: 'bottom', min: X_MIN, max: X_MAX, offset: false,
    afterBuildTicks: (s: any) => { s.ticks = range(X_MIN, X_MAX, 0.25).map(v => ({ value: v })); },
    afterFit: (s: any) => { s.height = height; },
    grid: { drawOnChartArea: false, drawTicks: true, tickLength: 6, color: '#000', lineWidth: 1.2, offset: false },
    border: { display: true, color: '#000', width: 1.5 },
    ticks: {
      display: showLabels, autoSkip: false, maxRotation: 0, minRotation: 0, padding: 4, color: INK,
      font: { family: FONT, size: 19 },
      callback: (v: number) => (Math.abs(v - Math.round(v)) < 1e-6 ? String(Math.round(v)) : ''),
    },
  };
}

function yAxis(o: any) {
  return {
    type: 'linear', position: o.position, min: o.min, max: o.max, reverse: !!o.reverse,
    afterBuildTicks: (s: any) => { s.ticks = o.ticks.map((v: number) => ({ value: v })); },
    afterFit: (s: any) => { s.width = o.width; },
    grid: {
      drawOnChartArea: false, tickLength: 6, color: '#000', lineWidth: 1.2,
      tickColor: (c: any) => (o.hidden != null && c.tick && Math.abs(c.tick.value - o.hidden) < 1e-6 ? 'rgba(0,0,0,0)' : '#000'),
    },
    border: { display: true, color: '#000', width: 1.5 },
    ticks: { display: o.showLabels !== false, autoSkip: false, padding: 8, color: INK, font: { family: FONT, size: 19 }, callback: o.label },
  };
}

/* ================= DRAW HELPERS ================= */
function txt(ctx: any, s: string, x: number, y: number, size = 19, align = 'center', color = INK, style = '') {
  ctx.save();
  ctx.font = `${style} ${size}px ${FONT}`;
  ctx.fillStyle = color; ctx.textAlign = align; ctx.textBaseline = 'middle';
  ctx.fillText(s, x, y);
  ctx.restore();
}
function vtitle(ctx: any, parts: [string, boolean][], cx: number, cy: number, size = 19) {
  ctx.save();
  ctx.translate(cx, cy); ctx.rotate(-Math.PI / 2);
  ctx.fillStyle = INK; ctx.textBaseline = 'middle'; ctx.textAlign = 'left';
  let total = 0;
  const widths = parts.map(([s, it]) => { ctx.font = `${it ? 'italic ' : ''}${size}px ${FONT}`; const w = ctx.measureText(s).width; total += w; return w; });
  let x = -total / 2;
  parts.forEach(([s, it], i) => { ctx.font = `${it ? 'italic ' : ''}${size}px ${FONT}`; ctx.fillText(s, x, 0); x += widths[i]; });
  ctx.restore();
}
function head(ctx: any, x1: number, y1: number, x2: number, y2: number, size: number, color: string) {
  const a = Math.atan2(y2 - y1, x2 - x1);
  ctx.save(); ctx.fillStyle = color; ctx.setLineDash([]);
  ctx.beginPath(); ctx.moveTo(x2, y2);
  ctx.lineTo(x2 - size * Math.cos(a - 0.45), y2 - size * Math.sin(a - 0.45));
  ctx.lineTo(x2 - size * Math.cos(a + 0.45), y2 - size * Math.sin(a + 0.45));
  ctx.closePath(); ctx.fill(); ctx.restore();
}
const frame = {
  id: 'frame',
  beforeDatasetsDraw(chart: any) {
    const { ctx, chartArea: a } = chart;
    ctx.save(); ctx.strokeStyle = '#000'; ctx.lineWidth = 1.5;
    ctx.strokeRect(a.left, a.top, a.right - a.left, a.bottom - a.top); ctx.restore();
  },
};
function eventLines(yTopFn: (c: any) => number, yBotFn: (c: any) => number, topMark: boolean, bottomArrow: boolean) {
  return {
    id: 'events',
    afterDatasetsDraw(chart: any) {
      const { ctx } = chart; const xs = chart.scales.x;
      const yt = yTopFn(chart), yb = yBotFn(chart);
      eventDates.forEach(d => {
        const x = xs.getPixelForValue(d);
        ctx.save(); ctx.strokeStyle = '#92D050'; ctx.lineWidth = 2; ctx.setLineDash([6, 4]);
        ctx.beginPath(); ctx.moveTo(x, yt); ctx.lineTo(x, bottomArrow ? yb - 9 : yb); ctx.stroke(); ctx.restore();
        if (topMark) { ctx.save(); ctx.fillStyle = '#00B050'; ctx.fillRect(x - 2.5, yt - 2.5, 5, 5); ctx.restore(); }
        if (bottomArrow) {
          ctx.save(); ctx.fillStyle = '#92D050'; ctx.beginPath();
          ctx.moveTo(x - 6, yb - 11); ctx.lineTo(x + 6, yb - 11); ctx.lineTo(x, yb); ctx.closePath(); ctx.fill(); ctx.restore();
        }
      });
    },
  };
}

const base = {
  responsive: false, animation: false, devicePixelRatio: 1, events: [],
  plugins: { legend: { display: false }, tooltip: { enabled: false } },
};

/* ================= CHART A ================= */
function configA(): any {
  const redLine: any[] = [{ x: X_MIN, y: 0 }];
  energySpikes.forEach(([x, v]) => { redLine.push({ x, y: 0 }, { x, y: v }, { x, y: 0 }); });
  redLine.push({ x: X_MAX, y: 0 });
  const notes = {
    id: 'notesA',
    afterDraw(chart: any) {
      const { ctx, chartArea: a, scales } = chart;
      txt(ctx, 'a)', 32, 19, 20);
      eventNotes.forEach((lines, i) => {
        const x = scales.x.getPixelForValue(eventDates[i]) + eventNoteOffset[i][0];
        lines.forEach((s, j) => txt(ctx, s, x, eventNoteOffset[i][1] + j * 22.5, 19));
      });
      range(0, 16, 2).forEach(v => {
        const y = scales.yE.getPixelForValue(v);
        ctx.save(); ctx.fillStyle = INK; ctx.textBaseline = 'middle'; ctx.textAlign = 'left';
        ctx.font = `19px ${FONT}`;
        if (v === 0) { ctx.fillText('0,0', a.right + 10, y); ctx.restore(); return; }
        const m = v >= 10 ? v / 10 : v; const e = v >= 10 ? '11' : '10';
        const s = m.toFixed(1).replace('.', ',') + 'x10';
        ctx.fillText(s, a.right + 10, y);
        const w = ctx.measureText(s).width;
        ctx.font = `12px ${FONT}`; ctx.fillText(e, a.right + 10 + w + 1, y - 8);
        ctx.restore();
      });
      vtitle(ctx, [['Número de sismos', false]], 33, 227);
      vtitle(ctx, [['Energía sísmica (Joules)', false]], a.right + 114, 220);
      const lx = a.left + 529, ly = a.top + 160;
      const row = (color: string, y: number) => { ctx.save(); ctx.strokeStyle = color; ctx.lineWidth = 3; ctx.beginPath(); ctx.moveTo(lx, y); ctx.lineTo(lx + 33, y); ctx.stroke(); ctx.restore(); };
      row('#8DB4E2', ly); txt(ctx, 'Número de sismos', lx + 36, ly, 19, 'left');
      row('#000000', ly + 43); txt(ctx, 'Energia sísmica', lx + 36, ly + 43, 19, 'left'); txt(ctx, 'acumulada', lx + 36, ly + 65, 19, 'left');
      row('#FF0000', ly + 87); txt(ctx, 'Energia sísmica', lx + 36, ly + 87, 19, 'left');
    },
  };
  return {
    type: 'line',
    data: {
      datasets: [
        { type: 'line', label: 'Energia sísmica', data: redLine, borderColor: '#FF0000', borderWidth: 3, pointRadius: 0, yAxisID: 'yE', order: 0, clip: 6 },
        { type: 'line', label: 'Energia sísmica acumulada', data: xy(energyCumulative), stepped: true, borderColor: '#000', borderWidth: 2.2, pointRadius: 0, yAxisID: 'yE', order: 1 },
        { type: 'bar', label: 'Número de sismos', data: xy([...quakeCountsLow, ...quakeCounts]), backgroundColor: '#8DB4E2', barThickness: 2, grouped: false, yAxisID: 'yN', order: 2 },
      ],
    },
    options: {
      ...base,
      layout: { padding: { top: A_TOP, bottom: CH - A_BOT, left: 0, right: 0 } },
      scales: {
        x: xAxis(false, 0),
        yN: yAxis({ position: 'left', min: 0, max: 1600, width: LEFT_W, ticks: [0, 75, ...range(100, 1600, 100)], hidden: 75,
          label: (v: number) => (v === 75 ? '0' : v > 0 && v % 200 === 0 ? String(v) : '') }),
        yE: yAxis({ position: 'right', min: 0, max: 16, width: RIGHT_W, ticks: range(0, 16, 2), showLabels: false, label: () => '' }),
      },
    },
    plugins: [frame, eventLines(c => c.scales.yN.getPixelForValue(1400), c => c.chartArea.bottom, true, false), notes],
  };
}

/* ================= CHART B ================= */
function configB(): any {
  const notes = {
    id: 'notesB',
    afterDraw(chart: any) {
      const { ctx, chartArea: a } = chart;
      txt(ctx, 'b)', 32, 425, 20);
      vtitle(ctx, [['Profundidad (km)', false]], 31, 612);
      const bx = a.left + 440, by = a.top + 268, bw = 90, bh = 122;
      ctx.save(); ctx.fillStyle = '#fff'; ctx.fillRect(bx, by, bw, bh);
      ctx.strokeStyle = '#000'; ctx.lineWidth = 1.5; ctx.strokeRect(bx, by, bw, bh); ctx.restore();
      txt(ctx, 'Magnitud', bx + 16, by + 15, 14, 'left');
      const rows = ['-2,6  -  0,0', '0,0  -  1,0', '1,0  -  2,0', '2,0  -  3,0', '3,0  -  5,0'];
      const mk = [null, ['rgba(30,65,205,0.85)', 1, null], ['rgba(75,205,120,0.9)', 1.6, null], ['#FFC20E', 3, '#333'], ['#EE1111', 3.8, '#333']];
      rows.forEach((r, i) => {
        const y = by + 39 + i * 17.8;
        txt(ctx, r, bx + bw - 6, y, 14, 'right');
        const m: any = mk[i];
        if (m) { ctx.save(); ctx.fillStyle = m[0]; ctx.beginPath(); ctx.arc(bx + 9, y, m[1], 0, Math.PI * 2); ctx.fill(); if (m[2]) { ctx.strokeStyle = m[2]; ctx.lineWidth = 0.8; ctx.stroke(); } ctx.restore(); }
      });
    },
  };
  return {
    type: 'scatter',
    data: {
      datasets: [
        { label: '3,0 - 5,0', data: xy(magTop), backgroundColor: '#EE1111', borderColor: '#3a2a2a', borderWidth: 1, pointRadius: 7, order: 0 },
        { label: '2,0 - 3,0', data: xy(magHigh), backgroundColor: '#FFC20E', borderColor: '#3d3420', borderWidth: 1, pointRadius: 5.5, order: 1 },
        { label: '1,0 - 2,0', data: xy(magMid), backgroundColor: 'rgba(75,205,120,0.85)', borderWidth: 0, pointRadius: 3.4, order: 2 },
        { label: '0,0 - 1,0', data: xy(magLow), backgroundColor: 'rgba(30,65,205,0.85)', borderWidth: 0, pointRadius: 1.8, order: 3 },
      ],
    },
    options: {
      ...base,
      layout: { padding: { top: A_BOT, bottom: CH - B_BOT, left: 0, right: RIGHT_W } },
      scales: {
        x: xAxis(false, 0),
        y: yAxis({ position: 'left', min: -3.06, max: 19.87, reverse: true, width: LEFT_W, ticks: [-3, -2.6, ...range(-2, 19, 1)], hidden: -2.6,
          label: (v: number) => (Math.abs(v + 2.6) < 1e-6 ? '-2' : v >= 0 && v % 3 === 0 ? String(v) : '') }),
      },
    },
    plugins: [frame, eventLines(c => c.chartArea.top, c => c.chartArea.bottom, false, false), notes],
  };
}

/* ================= CHART C ================= */
function configC(): any {
  const notes = {
    id: 'notesC',
    afterDatasetsDraw(chart: any) {
      const { ctx, scales } = chart; const X = scales.x, Y = scales.y;
      trendArrows.forEach(([x1, y1, x2, y2, h]) => {
        const p1 = [X.getPixelForValue(x1), Y.getPixelForValue(y1)], p2 = [X.getPixelForValue(x2), Y.getPixelForValue(y2)];
        ctx.save(); ctx.strokeStyle = '#16ACE6'; ctx.lineWidth = 1.8; ctx.setLineDash([5, 4]);
        ctx.beginPath(); ctx.moveTo(p1[0], p1[1]); ctx.lineTo(p2[0], p2[1]); ctx.stroke(); ctx.restore();
        if (h) head(ctx, p1[0], p1[1], p2[0], p2[1], 11, '#16ACE6');
      });
      changeArrows.forEach(([x, y1, y2]) => {
        const px = X.getPixelForValue(x), a = Y.getPixelForValue(y1), b = Y.getPixelForValue(y2);
        ctx.save(); ctx.strokeStyle = '#9A6FC4'; ctx.lineWidth = 1.3; ctx.beginPath(); ctx.moveTo(px, a); ctx.lineTo(px, b - 8); ctx.stroke(); ctx.restore();
        ctx.save(); ctx.fillStyle = '#7030A0'; ctx.beginPath(); ctx.moveTo(px - 5, b - 10); ctx.lineTo(px + 5, b - 10); ctx.lineTo(px, b); ctx.closePath(); ctx.fill(); ctx.restore();
      });
    },
    afterDraw(chart: any) {
      const { ctx, chartArea: a, scales } = chart; const X = scales.x, Y = scales.y;
      txt(ctx, 'c)', 32, 845, 20);
      vtitle(ctx, [['Microradianes (', false], ['μr', true], [') CIMA', false]], 33, 1050);
      vtitle(ctx, [['Microradianes (', false], ['μr', true], [')  LAGU', false]], a.right + 112, 1035);
      txt(ctx, 'Fecha', (a.left + a.right) / 2, 1308, 19);
      noDataSegments.forEach(([x1, x2, v]) => {
        ctx.save(); ctx.strokeStyle = '#333'; ctx.lineWidth = 1; ctx.beginPath();
        ctx.moveTo(X.getPixelForValue(x1), Y.getPixelForValue(v)); ctx.lineTo(X.getPixelForValue(x2), Y.getPixelForValue(v)); ctx.stroke(); ctx.restore();
      });
      txt(ctx, noDataLabel.text, X.getPixelForValue(noDataLabel.x), Y.getPixelForValue(noDataLabel.y), 19);
      const lx = a.left + 527, ly = a.top + 328;
      const row = (color: string, y: number) => { ctx.save(); ctx.strokeStyle = color; ctx.lineWidth = 3; ctx.beginPath(); ctx.moveTo(lx, y); ctx.lineTo(lx + 33, y); ctx.stroke(); ctx.restore(); };
      row('#000', ly); txt(ctx, 'Estación CIMA', lx + 36, ly, 19, 'left');
      row('#FF0000', ly + 43); txt(ctx, 'Estación LAGU', lx + 36, ly + 43, 19, 'left');
    },
  };
  return {
    type: 'line',
    data: {
      datasets: [
        { label: 'Estación CIMA', data: xy(tiltCIMA), borderColor: '#000', borderWidth: 2.4, pointRadius: 0, yAxisID: 'y', order: 0 },
        { label: 'Estación LAGU', data: xy(tiltLAGU), borderColor: '#FF0000', borderWidth: 2.4, pointRadius: 0, yAxisID: 'y2', spanGaps: false, order: 1 },
      ],
    },
    options: {
      ...base,
      layout: { padding: { top: B_BOT, bottom: 0, left: 0, right: 0 } },
      scales: {
        x: xAxis(true, CH - C_BOT),
        y: yAxis({ position: 'left', min: 0, max: 1200, width: LEFT_W, ticks: range(0, 1200, 25), label: (v: number) => (v % 200 === 0 ? String(v) : '') }),
        y2: yAxis({ position: 'right', min: 0, max: 400, width: RIGHT_W, ticks: range(0, 400, 50), label: (v: number) => String(v) }),
      },
    },
    plugins: [frame, eventLines(c => c.chartArea.top, c => c.scales.y.getPixelForValue(12), false, true), notes],
  };
}

/* ================= APP ================= */
export default function App() {
  const ra = useRef<HTMLCanvasElement>(null);
  const rb = useRef<HTMLCanvasElement>(null);
  const rc = useRef<HTMLCanvasElement>(null);
  useEffect(() => {
    Chart.defaults.font.family = FONT;
    const charts = [
      new Chart(ra.current as any, configA()),
      new Chart(rb.current as any, configB()),
      new Chart(rc.current as any, configC()),
    ];
    return () => charts.forEach(c => c.destroy());
  }, []);
  const st: any = { position: 'absolute', left: 0, top: 0, width: CW, height: CH };
  return (
    <div style={{ position: 'absolute', left: 0, top: 0, width: CW, height: CH, background: '#fff', overflow: 'hidden' }}>
      <canvas ref={ra} width={CW} height={CH} style={st} />
      <canvas ref={rb} width={CW} height={CH} style={st} />
      <canvas ref={rc} width={CW} height={CH} style={st} />
    </div>
  );
}
